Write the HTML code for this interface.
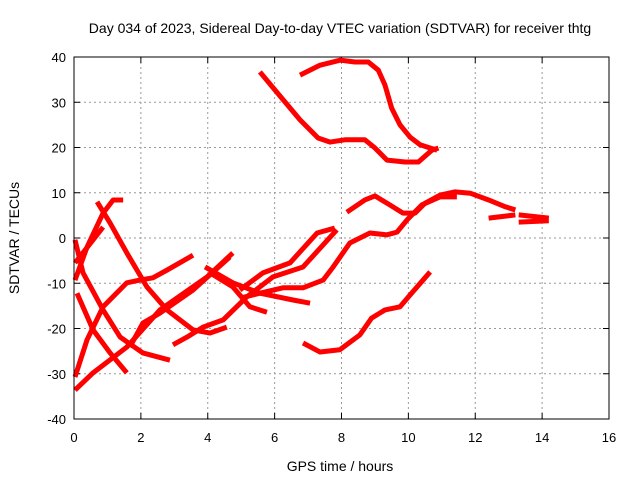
<!DOCTYPE html>
<html><head><meta charset="utf-8"><style>
body{margin:0;background:#fff;}
svg{display:block;font-family:"Liberation Sans",sans-serif;}
</style></head><body>
<svg id="chart" width="640" height="480">
<text x="340" y="33" font-size="14" text-anchor="middle">Day 034 of 2023, Sidereal Day-to-day VTEC variation (SDTVAR) for receiver thtg</text>
<text x="340" y="471" font-size="14" text-anchor="middle">GPS time / hours</text>
<text transform="translate(19,238) rotate(-90)" font-size="14" text-anchor="middle">SDTVAR / TECUs</text>
<g id="grid"></g><g id="series"></g>
<rect x="74" y="57" width="535" height="362" fill="none" stroke="#000"/>
</svg>
<script>
const xTicks=[0,2,4,6,8,10,12,14,16];
const yTicks=[-40,-30,-20,-10,0,10,20,30,40];
const tracks=[
[[5.56,36.7],[6.01,32.7],[6.76,26.1],[7.3,22.1],[7.66,21.2],[8.1,21.7],[8.7,21.7],[9.0,19.9],[9.36,17.2],[9.9,16.8],[10.3,16.8],[10.7,19.4],[10.9,19.9]],
[[6.76,36],[7.36,38.2],[7.96,39.3],[8.4,38.9],[8.8,38.9],[9.1,37.1],[9.3,33.8],[9.5,28.7],[9.75,25],[10.05,22.3],[10.35,20.6],[10.86,19.4]],
[[8.16,5.7],[8.7,8.4],[9.0,9.3],[9.45,7.3],[9.84,5.5],[10.2,5.5],[10.5,7.7],[10.95,9.5],[11.4,10.2],[11.85,9.9],[12.4,8.4],[12.9,6.9],[13.2,6.2]],
[[12.4,4.4],[13.2,5.1]],
[[13.3,5.1],[14.2,4.4]],
[[13.3,3.5],[14.2,3.8]],
[[4.96,-13.3],[5.56,-12.2],[6.25,-11],[6.85,-11],[7.45,-9.3],[7.75,-6.4],[8.25,-1.1],[8.85,1.1],[9.36,0.7],[9.66,1.3],[9.96,4],[10.4,7.3],[10.95,9.1],[11.45,9.1]],
[[4.96,-11.5],[5.65,-7.7],[6.46,-5.5],[7.27,1.1],[7.8,2.2]],
[[0.03,-33.6],[0.57,-29.8],[1.58,-24.1],[2.57,-15.9],[3.98,-8.6],[4.75,-3.3]],
[[0.03,-30.7],[0.39,-22.5],[0.87,-15.2],[1.58,-9.9],[1.97,-9.3],[2.36,-8.8],[2.78,-7.1],[3.56,-3.8]],
[[0.09,-12.2],[0.57,-20.3],[1.08,-25.4],[1.58,-29.8]],
[[0.03,-0.4],[0.27,-7.7],[0.87,-15.9],[1.38,-21.9],[2.06,-25.4],[2.87,-27]],
[[0.69,8],[1.08,3.3],[1.58,-3.3],[2.18,-10.8],[2.78,-15.9],[3.56,-20.3],[4.07,-21],[4.57,-19.7]],
[[0.03,-9.3],[0.39,-2],[0.87,5.5],[1.17,8.4],[1.47,8.4]],
[[0.03,-5.5],[0.87,2.4]],
[[2.96,-23.6],[3.38,-21.9],[3.86,-19.7],[4.46,-18.1],[5.17,-13],[5.95,-8.6],[6.85,-6.4],[7.86,1.8]],
[[3.92,-6.4],[4.75,-9.9],[5.56,-12.2],[6.55,-13.7],[7.06,-14.4]],
[[4.07,-7.7],[4.75,-10.8],[5.26,-15.2],[5.77,-16.4]],
[[1.67,-24.1],[2.06,-18.8],[2.57,-16.6],[3.56,-11.5],[4.66,-4.2]],
[[6.85,-23.2],[7.36,-25.2],[7.95,-24.7],[8.55,-21.4],[8.9,-17.7],[9.3,-15.9],[9.75,-15.2],[10.05,-12.6],[10.65,-7.5]]
];
const NS='http://www.w3.org/2000/svg';
const X0=74,X1=609,Y0=419,Y1=57;
function sx(v){return X0+(v-0)/16*(X1-X0);}
function sy(v){return Y0-(v+40)/80*(Y0-Y1);}
const grid=document.getElementById('grid');
function mk(tag,attrs,parent){const e=document.createElementNS(NS,tag);for(const k in attrs)e.setAttribute(k,attrs[k]);parent.appendChild(e);return e;}
xTicks.forEach(t=>{
  const x=sx(t);
  if(t>0&&t<16){const g=mk('line',{x1:x,x2:x,y1:Y1,y2:Y0,stroke:'#999','stroke-dasharray':'2,3'},grid);
  
  }
  mk('line',{x1:x,x2:x,y1:Y0,y2:Y0-6,stroke:'#000'},grid);
  mk('line',{x1:x,x2:x,y1:Y1,y2:Y1+6,stroke:'#000'},grid);
  const l=mk('text',{x:x,y:Y0+23,'font-size':13,'text-anchor':'middle'},grid);l.textContent=t;
  
  
});
yTicks.forEach(t=>{
  const y=sy(t);
  if(t>-40&&t<40){const g=mk('line',{x1:X0,x2:X1,y1:y,y2:y,stroke:'#999','stroke-dasharray':'2,3'},grid);
  
  }
  mk('line',{x1:X0,x2:X0+6,y1:y,y2:y,stroke:'#000'},grid);
  mk('line',{x1:X1,x2:X1-6,y1:y,y2:y,stroke:'#000'},grid);
  const l=mk('text',{x:X0-8,y:y+5,'font-size':13,'text-anchor':'end'},grid);l.textContent=t;
  
  
});
const ser=document.getElementById('series');
tracks.forEach((tr,i)=>{
  const p=mk('polyline',{points:tr.map(d=>sx(d[0])+','+sy(d[1])).join(' '),fill:'none',stroke:'#ff0000','stroke-width':5,'stroke-linejoin':'round'},ser);
  
  
});
</script>
</body></html>
